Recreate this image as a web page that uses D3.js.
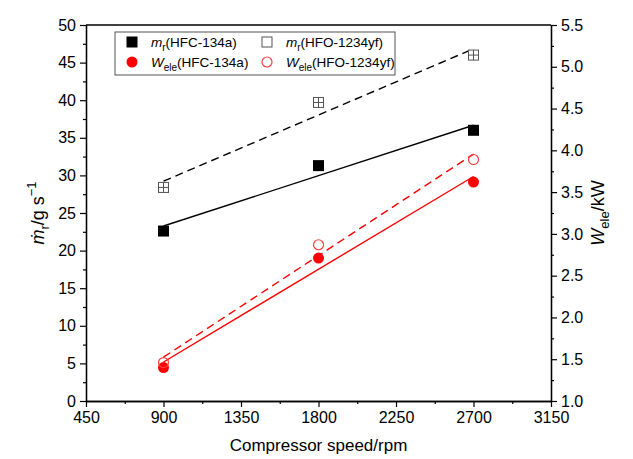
<!DOCTYPE html>
<html>
<head>
<meta charset="utf-8">
<script src="https://cdn.jsdelivr.net/npm/d3@7"></script>
<style>
  body { margin: 0; background: #fff; }
  svg { font-family: "Liberation Sans", Arial, sans-serif; }
</style>
</head>
<body>
<svg id="chart"></svg>
<script>
// compressor speeds (rpm)
const speeds = [900, 1800, 2700];
// refrigerant mass flow rate, g/s (left axis)
const mrHFC134a = [22.6, 31.3, 36.0];
const mrHFO1234yf = [28.4, 39.7, 46.0];
// electric power, kW (right axis)
const weleHFC134a = [1.40, 2.71, 3.62];
const weleHFO1234yf = [1.46, 2.87, 3.89];

const xTicks = [450, 900, 1350, 1800, 2250, 2700, 3150];
const yLeftTicks = [0, 5, 10, 15, 20, 25, 30, 35, 40, 45, 50];
const yRightTicks = [1.0, 1.5, 2.0, 2.5, 3.0, 3.5, 4.0, 4.5, 5.0, 5.5];

const width = 633, height = 459;
const margin = {top: 25, right: 82, bottom: 58, left: 86};
const iw = width - margin.left - margin.right;
const ih = height - margin.top - margin.bottom;

const svg = d3.select('#chart').attr('width', width).attr('height', height);
const g = svg.append('g').attr('transform', `translate(${margin.left},${margin.top})`);

const x = d3.scaleLinear().domain([450, 3150]).range([0, iw]);
const yL = d3.scaleLinear().domain([0, 50]).range([ih, 0]);
const yR = d3.scaleLinear().domain([1.0, 5.5]).range([ih, 0]);

// least squares fit through the measured points
function fit(xs, ys) {
    const mx = d3.mean(xs), my = d3.mean(ys);
    const b = d3.sum(xs, (v, i) => (v - mx) * (ys[i] - my)) / d3.sum(xs, v => (v - mx) * (v - mx));
    const a = my - b * mx;
    const x0 = d3.min(xs), x1 = d3.max(xs);
    return [[x0, a + b * x0], [x1, a + b * x1]];
}

// minor ticks
const xMinor = d3.range(675, 3150, 450);
const yLMinor = d3.range(2.5, 50, 5);
const yRMinor = d3.range(1.25, 5.5, 0.5);

// axes
g.append('g').attr('transform', `translate(0,${ih})`)
    .call(d3.axisBottom(x).tickValues(xTicks).tickSize(6).tickSizeOuter(0).tickPadding(5)
        .tickFormat(d3.format('d')));
g.append('g').attr('transform', `translate(0,${ih})`)
    .call(d3.axisBottom(x).tickValues(xMinor).tickSize(3).tickFormat('').tickSizeOuter(0));

g.append('g')
    .call(d3.axisLeft(yL).tickValues(yLeftTicks).tickSize(6).tickSizeOuter(0).tickPadding(4));
g.append('g')
    .call(d3.axisLeft(yL).tickValues(yLMinor).tickSize(3).tickFormat('').tickSizeOuter(0));

g.append('g').attr('transform', `translate(${iw},0)`)
    .call(d3.axisRight(yR).tickValues(yRightTicks).tickSize(6).tickSizeOuter(0).tickPadding(4)
        .tickFormat(d3.format('.1f')));
g.append('g').attr('transform', `translate(${iw},0)`)
    .call(d3.axisRight(yR).tickValues(yRMinor).tickSize(3).tickFormat('').tickSizeOuter(0));

g.append('line').attr('x1', 0).attr('x2', iw).attr('y1', 0).attr('y2', 0)
    .attr('stroke', '#000').attr('stroke-width', 1.3);

g.selectAll('.domain').attr('stroke', '#000').attr('stroke-width', 1.3);
g.selectAll('.tick line').attr('stroke', '#000').attr('stroke-width', 1.2);
g.selectAll('.tick text').attr('font-size', 16).attr('fill', '#000')
    .attr('font-family', '"Liberation Sans", Arial, sans-serif');

// fit lines
const line = d3.line();
const fits = [
    {xs: speeds, ys: mrHFC134a, s: yL, color: '#000', dash: null},
    {xs: speeds, ys: mrHFO1234yf, s: yL, color: '#000', dash: '8,5'},
    {xs: speeds, ys: weleHFC134a, s: yR, color: '#ff0000', dash: null},
    {xs: speeds, ys: weleHFO1234yf, s: yR, color: '#ff0000', dash: '8,5'}
];
fits.forEach(f => {
    const pts = fit(f.xs, f.ys).map(p => [x(p[0]), f.s(p[1])]);
    g.append('path').attr('d', line(pts))
        .attr('fill', 'none').attr('stroke', f.color).attr('stroke-width', 1.4)
        .attr('stroke-dasharray', f.dash);
});

// markers
function squareFilled(sel, cx, cy) {
    sel.append('rect').attr('x', cx - 5.5).attr('y', cy - 5.5).attr('width', 11).attr('height', 11)
        .attr('fill', '#000');
}
function squareOpen(sel, cx, cy) {
    sel.append('rect').attr('x', cx - 5).attr('y', cy - 5).attr('width', 10).attr('height', 10)
        .attr('fill', '#fff').attr('stroke', '#555').attr('stroke-width', 1);
}
function squareGrid(sel, cx, cy) {
    squareOpen(sel, cx, cy);
    sel.append('path').attr('d', `M${cx - 5},${cy}H${cx + 5}M${cx},${cy - 5}V${cy + 5}`)
        .attr('stroke', '#555').attr('stroke-width', 1);
}
function circleFilled(sel, cx, cy) {
    sel.append('circle').attr('cx', cx).attr('cy', cy).attr('r', 5.5).attr('fill', '#ff0000');
}
function circleOpen(sel, cx, cy) {
    sel.append('circle').attr('cx', cx).attr('cy', cy).attr('r', 5)
        .attr('fill', 'none').attr('stroke', '#ff4040').attr('stroke-width', 1.2);
}

speeds.forEach((s, i) => {
    squareGrid(g, x(s), yL(mrHFO1234yf[i]));
    squareFilled(g, x(s), yL(mrHFC134a[i]));
    circleFilled(g, x(s), yR(weleHFC134a[i]));
    circleOpen(g, x(s), yR(weleHFO1234yf[i]));
});

// legend
const lg = svg.append('g');
lg.append('rect').attr('x', 115).attr('y', 32).attr('width', 280).attr('height', 43)
    .attr('fill', '#fff').attr('stroke', '#555').attr('stroke-width', 1);

const legendItems = [
    {sym: squareFilled, main: 'm', sub: 'r', rest: '(HFC-134a)', x: 132, y: 42},
    {sym: squareOpen, main: 'm', sub: 'r', rest: '(HFO-1234yf)', x: 267, y: 42},
    {sym: circleFilled, main: 'W', sub: 'ele', rest: '(HFC-134a)', x: 132, y: 62},
    {sym: circleOpen, main: 'W', sub: 'ele', rest: '(HFO-1234yf)', x: 267, y: 62}
];
legendItems.forEach(d => {
    d.sym(lg, d.x, d.y);
    const t = lg.append('text').attr('x', d.x + 19).attr('y', d.y + 5).attr('font-size', 13.5);
    t.append('tspan').attr('font-style', 'italic').text(d.main);
    t.append('tspan').attr('font-size', 10).attr('dy', 4).text(d.sub);
    t.append('tspan').attr('dy', -4).text(d.rest);
});

// axis titles
svg.append('text').attr('x', margin.left + iw / 2).attr('y', 451)
    .attr('text-anchor', 'middle').attr('font-size', 17).text('Compressor speed/rpm');

const lt = svg.append('text')
    .attr('transform', `translate(44,${margin.top + ih / 2}) rotate(-90)`)
    .attr('text-anchor', 'middle').attr('font-size', 18);
lt.append('tspan').attr('font-style', 'italic').text('\u1E41');
lt.append('tspan').attr('font-size', 13).attr('dy', 5).text('r');
lt.append('tspan').attr('dy', -5).text('/g s');
lt.append('tspan').attr('font-size', 13).attr('dy', -8).text('\u22121');

const rt = svg.append('text')
    .attr('transform', `translate(604,${margin.top + ih / 2}) rotate(-90)`)
    .attr('text-anchor', 'middle').attr('font-size', 18);
rt.append('tspan').attr('font-style', 'italic').text('W');
rt.append('tspan').attr('font-size', 13).attr('dy', 5).text('ele');
rt.append('tspan').attr('dy', -5).text('/kW');
</script>
</body>
</html>
